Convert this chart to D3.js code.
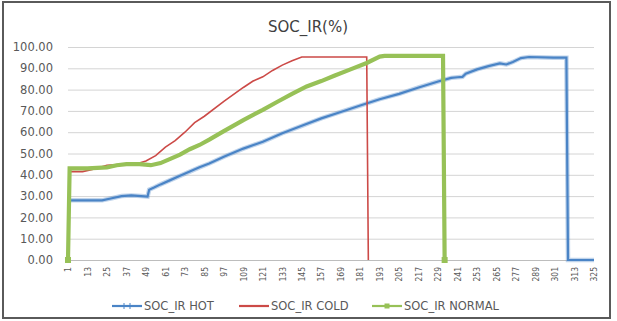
<!DOCTYPE html>
<html lang="en">
<head>
   <meta charset="UTF-8">
   <title>SOC_IR(%)</title>
   <script src="https://cdn.jsdelivr.net/npm/d3@7"></script>
   <style>
      body { margin: 0; background: #fff; }
      text { font-family: "DejaVu Sans", sans-serif; fill: #595959; }
   </style>
</head>
<body>
   <svg id="chart" width="617" height="321"></svg>

   <script>
       // values: [category, SOC %]
       const hot = [[1,28],[13,28],[22,28],[28,29],[34,30],[40,30.3],[46,30],[50,29.8],[51,33],[54,34],[58,35.5],
           [64,37.5],[70,39.5],[76,41.5],[82,43.5],[88,45.3],[97,48.5],[109,52.3],[121,55.5],[133,59.5],[145,63],
           [157,66.5],[169,69.5],[181,72.5],[193,75.5],[205,78],[217,81],[229,83.8],[237,85.5],[241,85.8],[244,86],
           [246,87.5],[253,89.5],[260,91],[267,92.3],[271,91.8],[275,93],[280,94.8],[285,95.3],[300,95],[308,95],
           [309,0],[325,0]];
       const cold = [[1,41.5],[10,41.5],[16,42.5],[25,44.5],[37,45],[45,45.5],[49,46.5],[55,49],[61,53],[67,56],
           [73,60],[79,64.5],[85,67.5],[97,74.5],[109,81],[115,84],[121,86],[127,89],[133,91.5],[139,93.5],
           [145,95.3],[185,95.3],[186,0]];
       const normal = [[1,0],[2,43],[13,43],[25,43.5],[31,44.5],[37,45],[45,45],[52,44.5],[58,45.5],[64,47.5],
           [70,49.5],[76,52],[82,54],[88,56.5],[97,60.5],[109,65.7],[121,70.5],[130,74.3],[139,78],[148,81.5],
           [157,84],[165,86.5],[175,89.5],[185,92.5],[193,95.5],[196,95.8],[232,95.8],[233,0]];

       const xTicks = [1,13,25,37,49,61,73,85,97,109,121,133,145,157,169,181,193,205,217,229,241,253,265,277,289,301,313,325];
       const yTicks = [0,10,20,30,40,50,60,70,80,90,100];
       const seriesNames = ['SOC_IR HOT', 'SOC_IR COLD', 'SOC_IR NORMAL'];
       const colors = ['#4a84c6', '#cc4a47', '#97c157'];

       const svg = d3.select('#chart');

       // outer frame
       svg.append('rect')
           .attr('x', 3).attr('y', 2).attr('width', 607).attr('height', 316)
           .attr('fill', '#fff').attr('stroke', '#5a5a5a').attr('stroke-width', 2);

       const x = d3.scaleLinear().domain([1, 325]).range([68, 594]);
       const y = d3.scaleLinear().domain([0, 100]).range([260, 47]);

       svg.append('text')
           .attr('x', 308).attr('y', 32)
           .attr('text-anchor', 'middle')
           .style('font-size', '15px').style('fill', '#404040')
           .text('SOC_IR(%)');

       // gridlines + y labels
       const yAxis = svg.append('g')
           .attr('transform', 'translate(68,0)')
           .call(d3.axisLeft(y).tickValues(yTicks).tickSize(-526).tickPadding(15).tickFormat(d3.format('.2f')));
       yAxis.select('.domain').remove();
       yAxis.selectAll('line').attr('stroke', d => d === 0 ? '#bdbdbd' : '#d4d4d4');
       yAxis.selectAll('text').style('font-size', '11.5px').style('fill', '#595959');

       // x labels
       const xAxis = svg.append('g')
           .attr('transform', 'translate(0,260)')
           .call(d3.axisBottom(x).tickValues(xTicks).tickSize(0).tickFormat(d3.format('d')));
       xAxis.select('.domain').remove();
       xAxis.selectAll('text')
           .attr('transform', 'rotate(-90)')
           .attr('text-anchor', 'end')
           .attr('x', -7).attr('y', 0).attr('dy', '0.32em')
           .style('font-family', '"Liberation Sans Narrow", "DejaVu Sans Condensed", sans-serif')
           .style('font-size', '8.5px').style('fill', '#595959');

       const line = d3.line().x(d => x(d[0])).y(d => y(d[1]));

       // hot: dense plus markers give a fuzzy look
       svg.append('path').datum(hot).attr('d', line)
           .attr('fill', 'none').attr('stroke', colors[0]).attr('stroke-opacity', 0.35).attr('stroke-width', 4.5);
       svg.append('path').datum(hot).attr('d', line)
           .attr('fill', 'none').attr('stroke', colors[0]).attr('stroke-width', 2.2);

       svg.append('path').datum(cold).attr('d', line)
           .attr('fill', 'none').attr('stroke', colors[1]).attr('stroke-width', 1.6);

       svg.append('path').datum(normal).attr('d', line)
           .attr('fill', 'none').attr('stroke', colors[2]).attr('stroke-width', 4.2);
       svg.append('g').selectAll('rect')
           .data(normal.filter(d => d[1] === 0))
           .join('rect')
           .attr('x', d => x(d[0]) - 3).attr('y', d => y(d[1]) - 3)
           .attr('width', 6).attr('height', 6)
           .attr('fill', colors[2]);

       // legend
       const legX = [112, 239, 372];
       const legend = svg.append('g');
       seriesNames.forEach((name, i) => {
           const g = legend.append('g').attr('transform', `translate(${legX[i]},306)`);
           g.append('line').attr('x1', 0).attr('x2', 30).attr('y1', 0).attr('y2', 0)
               .attr('stroke', colors[i]).attr('stroke-width', 2.2);
           if (i === 0) {
               g.append('path').attr('d', 'M12,-3V3M18,-3V3').attr('stroke', colors[0]).attr('stroke-width', 1);
           }
           if (i === 2) {
               g.append('rect').attr('x', 12.5).attr('y', -2.5).attr('width', 5).attr('height', 5).attr('fill', colors[2]);
           }
           g.append('text').attr('x', 32).attr('dy', '0.35em')
               .style('font-size', '11.5px')
               .text(name);
       });
   </script>
</body>
</html>
